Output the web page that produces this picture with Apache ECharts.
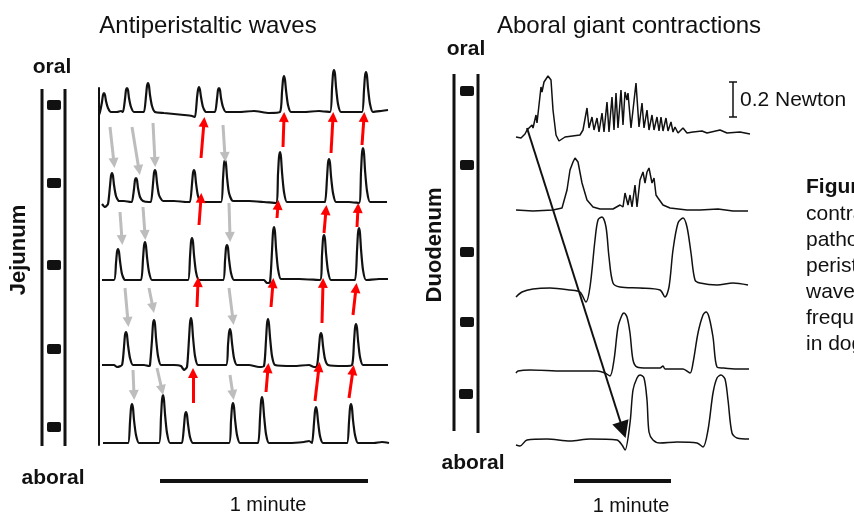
<!DOCTYPE html>
<html>
<head>
<meta charset="utf-8">
<script src="https://cdn.jsdelivr.net/npm/echarts@6/dist/echarts.min.js"></script>
<style>html,body{margin:0;padding:0;background:#fff;}#c{width:854px;height:516px;}</style>
</head>
<body>
<div id="c"></div>
<script>
// ---------- DATA ----------
// Left panel (jejunum): time in samples, force in arbitrary units above each channel's baseline
const jejunum1 = [[0,-3],[1,0],[3,10],[4,17],[5,19],[6,17],[7,11],[9,4],[12,0],[18,0],[22,1],[24,0],[26,13],[27,22],[28,24],[29,22],[30,14],[32,5],[35,0],[42,0],[45,0],[47,16],[48,26],[49,29],[50,26],[51,17],[53,6],[56,0],[65,-1],[75,-2],[85,-3],[93,-4],[96,-5],[98,14],[99,22],[100,25],[101,22],[102,15],[104,5],[107,0],[112,0],[116,0],[118,13],[119,22],[120,24],[121,22],[122,14],[124,5],[127,0],[140,0],[155,1],[170,-1],[181,0],[183,20],[184,32],[185,36],[186,32],[187,22],[189,7],[192,0],[205,0],[220,1],[231,0],[233,23],[234,38],[235,42],[236,38],[237,25],[239,8],[242,0],[255,0],[263,0],[265,22],[266,36],[267,40],[268,36],[269,24],[271,8],[274,0],[282,1],[289,2]];
const jejunum2 = [[3,-2],[6,-5],[9,-2],[11,16],[12,26],[13,29],[14,26],[15,17],[17,6],[20,1],[25,1],[32,0],[33,0],[35,13],[36,22],[37,24],[38,22],[39,14],[41,5],[44,1],[50,0],[52,0],[54,18],[55,29],[56,32],[57,29],[58,19],[60,7],[64,1],[75,1],[88,0],[91,0],[93,18],[94,29],[95,32],[96,29],[97,19],[99,6],[102,0],[112,0],[122,0],[124,23],[125,38],[126,42],[127,38],[128,25],[130,9],[134,1],[150,1],[165,0],[177,-1],[179,28],[180,45],[181,50],[182,45],[183,30],[185,10],[188,0],[205,0],[222,0],[226,0],[228,24],[229,39],[230,43],[231,39],[232,26],[234,9],[237,0],[250,0],[260,-1],[262,30],[263,49],[264,54],[265,49],[266,32],[268,11],[271,0],[280,0],[288,0]];
const jejunum3 = [[3,0],[15,0],[17,17],[18,28],[19,31],[20,28],[21,19],[23,6],[26,0],[35,0],[42,0],[44,21],[45,34],[46,38],[47,34],[48,23],[50,8],[53,0],[65,0],[80,0],[89,0],[91,23],[92,38],[93,42],[94,38],[95,25],[97,8],[100,0],[110,0],[124,0],[126,19],[127,32],[128,35],[129,32],[130,21],[132,7],[135,0],[150,0],[165,0],[168,-3],[171,-2],[173,29],[174,48],[175,53],[176,48],[177,32],[179,11],[182,1],[200,1],[221,0],[223,25],[224,41],[225,45],[226,41],[227,27],[229,9],[232,0],[250,0],[256,0],[258,29],[259,47],[260,52],[261,47],[262,31],[264,10],[267,0],[280,1],[289,1]];
const jejunum4 = [[3,0],[15,0],[18,-2],[23,0],[25,18],[26,30],[27,33],[28,30],[29,20],[31,7],[34,0],[45,0],[50,-1],[51,0],[53,25],[54,41],[55,45],[56,41],[57,27],[59,9],[62,0],[75,0],[82,-1],[85,-5],[88,-2],[90,26],[91,42],[92,47],[93,42],[94,28],[96,9],[99,0],[110,0],[127,0],[129,20],[130,32],[131,36],[132,32],[133,22],[135,7],[138,0],[150,0],[160,-2],[165,-1],[167,25],[168,41],[169,46],[170,41],[171,28],[173,9],[176,0],[195,-1],[210,0],[215,-2],[218,-1],[220,18],[221,29],[222,32],[223,29],[224,19],[226,6],[229,0],[245,-1],[253,0],[255,23],[256,37],[257,41],[258,37],[259,25],[261,8],[264,0],[280,0],[289,0]];
const jejunum5 = [[4,0],[20,0],[29,0],[31,21],[32,35],[33,39],[34,35],[35,23],[37,8],[40,0],[50,0],[60,0],[62,26],[63,43],[64,48],[65,43],[66,29],[68,10],[71,0],[80,0],[83,0],[85,17],[86,28],[87,31],[88,28],[89,19],[91,6],[94,0],[110,0],[130,0],[132,22],[133,36],[134,40],[135,36],[136,24],[138,8],[141,0],[152,0],[159,0],[161,25],[162,41],[163,46],[164,41],[165,28],[167,9],[170,0],[190,0],[205,1],[210,2],[213,0],[215,20],[216,32],[217,36],[218,32],[219,22],[221,7],[224,0],[240,0],[248,0],[250,21],[251,35],[252,39],[253,35],[254,23],[256,8],[259,0],[275,0],[283,1],[290,0]];

// arrows between jejunal channels: [t0, y0, t1, y1]
const aboralArrows = [[11,318,15,282],[33,318,40,275],[54,322,56,283],[124,320,126,288],[21,233,23,205],[44,238,46,210],[130,242,131,208],[26,157,29,123],[50,157,54,137],[130,157,134,125],[34,75,35,50],[58,77,63,55],[131,70,134,50]];
const oralArrows = [[102,287,105,323],[184,298,185,328],[232,292,234,328],[263,300,265,328],[100,220,102,247],[178,227,179,240],[225,212,227,235],[258,218,259,237],[98,138,99,163],[172,138,174,162],[223,122,224,162],[254,130,257,157],[94,42,94,72],[167,53,169,77],[216,44,220,78],[250,47,254,75]];

// Right panel (duodenum)
const duodenum1 = [[0,-2],[5,-3],[9,1],[11,5],[12,3],[16,10],[17,7],[20,20],[21,12],[25,48],[26,43],[28,53],[30,52],[32,59],[35,55],[37,25],[40,0],[43,-6],[49,-2],[64,0],[67,5],[71,27],[73,7],[76,18],[78,5],[81,17],[83,3],[86,22],[88,3],[91,33],[93,3],[96,38],[98,5],[100,42],[102,7],[105,45],[107,10],[109,43],[111,35],[112,42],[115,7],[117,7],[120,52],[123,8],[126,32],[128,7],[131,25],[133,5],[136,20],[138,5],[141,18],[143,4],[145,18],[147,4],[150,17],[152,4],[155,13],[157,3],[159,8],[162,2],[167,7],[171,2],[177,3],[186,4],[191,2],[204,5],[211,2],[224,3],[234,1]];
const duodenum2 = [[0,0],[17,-1],[37,0],[46,2],[51,20],[54,40],[57,48],[59,52],[62,48],[66,27],[71,10],[77,3],[84,1],[97,1],[104,5],[107,3],[109,17],[112,5],[114,15],[116,3],[119,25],[121,3],[124,30],[127,38],[129,27],[131,38],[133,42],[136,27],[138,32],[140,15],[142,12],[147,5],[154,2],[171,0],[184,0],[202,1],[217,-1],[232,-1]];
const duodenum3 = [[0,-9],[6,-4],[17,-1],[34,0],[54,-2],[64,-4],[70,-14],[74,1],[79,48],[82,68],[86,71],[90,61],[93,31],[97,5],[104,1],[124,0],[144,-2],[149,-9],[153,1],[157,38],[162,65],[167,70],[171,61],[175,35],[179,8],[184,5],[201,3],[217,5],[232,3]];
const duodenum4 = [[0,-3],[2,-1],[14,0],[47,-1],[81,-1],[89,-3],[94,-6],[98,10],[102,43],[106,55],[108,57],[111,53],[114,37],[117,10],[121,3],[131,2],[144,2],[147,4],[149,1],[167,1],[174,-3],[177,7],[182,37],[187,55],[190,58],[193,53],[197,33],[201,3],[207,2],[221,1],[233,1]];
const duodenum5 = [[0,-5],[4,-6],[11,0],[31,1],[54,-1],[74,1],[101,0],[106,-5],[109,-10],[114,17],[117,50],[121,62],[124,65],[128,62],[131,40],[133,8],[137,0],[144,-3],[161,-2],[181,-3],[187,-7],[192,10],[197,47],[201,62],[205,65],[209,61],[212,40],[216,7],[221,2],[233,1]];

// migrating giant contraction: [t0, y0, t1, y1]
const gcArrow = [11,332,107,30];

const titles = ['Antiperistaltic waves', 'Aboral giant contractions'];
const captionLines = ['contractions in', 'pathophysiological', 'peristaltic', 'waves of', 'frequency', 'in dogs'];

// ---------- LAYOUT ----------
const leftBase = [333, 243, 165, 80, 2];
const rightBase = [325, 250, 172, 90, 20];
const FONT = '"Liberation Sans", Arial, Helvetica, sans-serif';
const lift = (tr, b) => tr.map(p => [p[0], p[1] + b]);

const chart = echarts.init(document.getElementById('c'), null, {renderer: 'canvas'});

const series = [];
[jejunum1, jejunum2, jejunum3, jejunum4, jejunum5].forEach((tr, i) => {
  series.push({type: 'line', xAxisIndex: 0, yAxisIndex: 0, data: lift(tr, leftBase[i]),
    symbol: 'none', clip: false, animation: false, silent: true, smooth: 0.2,
    lineStyle: {color: '#111', width: 2.2}});
});
[duodenum1, duodenum2, duodenum3, duodenum4, duodenum5].forEach((tr, i) => {
  series.push({type: 'line', xAxisIndex: 1, yAxisIndex: 1, data: lift(tr, rightBase[i]),
    symbol: 'none', clip: false, animation: false, silent: true, smooth: i >= 2 ? 0.3 : false,
    lineStyle: {color: '#111', width: 1.5}});
});
series.push({type: 'lines', coordinateSystem: 'cartesian2d', xAxisIndex: 0, yAxisIndex: 0,
  data: aboralArrows.map(a => ({coords: [[a[0], a[1]], [a[2], a[3]]]})),
  symbol: ['none', 'triangle'], symbolSize: [10, 10], animation: false, silent: true, z: 5,
  lineStyle: {color: '#bdbdbd', width: 3, opacity: 1}});
series.push({type: 'lines', coordinateSystem: 'cartesian2d', xAxisIndex: 0, yAxisIndex: 0,
  data: oralArrows.map(a => ({coords: [[a[0], a[1]], [a[2], a[3]]]})),
  symbol: ['none', 'triangle'], symbolSize: [10, 10], animation: false, silent: true, z: 5,
  lineStyle: {color: '#ff0000', width: 3, opacity: 1}});
series.push({type: 'lines', coordinateSystem: 'cartesian2d', xAxisIndex: 1, yAxisIndex: 1,
  data: [{coords: [[gcArrow[0], gcArrow[1]], [gcArrow[2], gcArrow[3]]]}],
  symbol: ['none', 'triangle'], symbolSize: [14, 17], animation: false, silent: true, z: 5,
  lineStyle: {color: '#111', width: 2, opacity: 1}});

const hidden = {show: false};
const txt = (text, x, y, size, bold, align, rot) => ({
  type: 'text', x: x, y: y, rotation: rot || 0, silent: true,
  style: {text: text, fill: '#111', font: (bold ? 'bold ' : '') + size + 'px ' + FONT,
    textAlign: align || 'center', textVerticalAlign: 'middle'}
});
const vline = (x, y1, y2, w) => ({type: 'line', silent: true, shape: {x1: x, y1: y1, x2: x, y2: y2}, style: {stroke: '#111', lineWidth: w}});
const hline = (x1, x2, y, w) => ({type: 'line', silent: true, shape: {x1: x1, y1: y, x2: x2, y2: y}, style: {stroke: '#111', lineWidth: w}});
const elec = (cx, cy) => ({type: 'rect', silent: true, shape: {x: cx - 7, y: cy - 5, width: 14, height: 10, r: 2}, style: {fill: '#111'}});

const graphics = [
  txt(titles[0], 208, 26, 24, false),
  txt(titles[1], 629, 26, 24, false),
  // left ruler
  vline(42, 89, 446, 3), vline(65, 89, 446, 3),
  elec(54, 105), elec(54, 183), elec(54, 265), elec(54, 349), elec(54, 427),
  txt('oral', 52, 67, 21, true),
  txt('aboral', 53, 478, 21, true),
  txt('Jejunum', 19, 250, 22, true, 'center', Math.PI / 2),
  // right ruler
  vline(454, 74, 431, 3), vline(478, 74, 433, 3),
  elec(467, 91), elec(467, 165), elec(467, 252), elec(467, 322), elec(466, 394),
  txt('oral', 466, 49, 21, true),
  txt('aboral', 473, 463, 21, true),
  txt('Duodenum', 435, 245, 22, true, 'center', Math.PI / 2),
  // time scale bars
  hline(160, 368, 481, 4), txt('1 minute', 268, 505, 20, false),
  hline(574, 671, 481, 4), txt('1 minute', 631, 506, 20, false),
  // force scale bar
  vline(733, 82, 117, 1.5), hline(729, 737, 82, 1.5), hline(729, 737, 117, 1.5),
  txt('0.2 Newton', 740, 100, 21, false, 'left'),
  // caption (clipped)
  txt('Figure 4', 806, 187, 21, true, 'left')
];
captionLines.forEach((l, i) => graphics.push(txt(l, 806, 214 + i * 26, 21, false, 'left')));

chart.setOption({
  animation: false,
  backgroundColor: '#fff',
  grid: [
    {left: 99, top: 88, width: 290, height: 357},
    {left: 516, top: 60, width: 240, height: 400}
  ],
  xAxis: [
    {type: 'value', gridIndex: 0, min: 0, max: 290, show: false},
    {type: 'value', gridIndex: 1, min: 0, max: 240, show: false}
  ],
  yAxis: [
    {type: 'value', gridIndex: 0, min: 0, max: 357, axisLine: {show: true, onZero: false, lineStyle: {color: '#111', width: 2}},
      axisTick: hidden, axisLabel: hidden, splitLine: hidden},
    {type: 'value', gridIndex: 1, min: 0, max: 400, show: false}
  ],
  graphic: graphics,
  series: series
});
</script>
</body>
</html>
